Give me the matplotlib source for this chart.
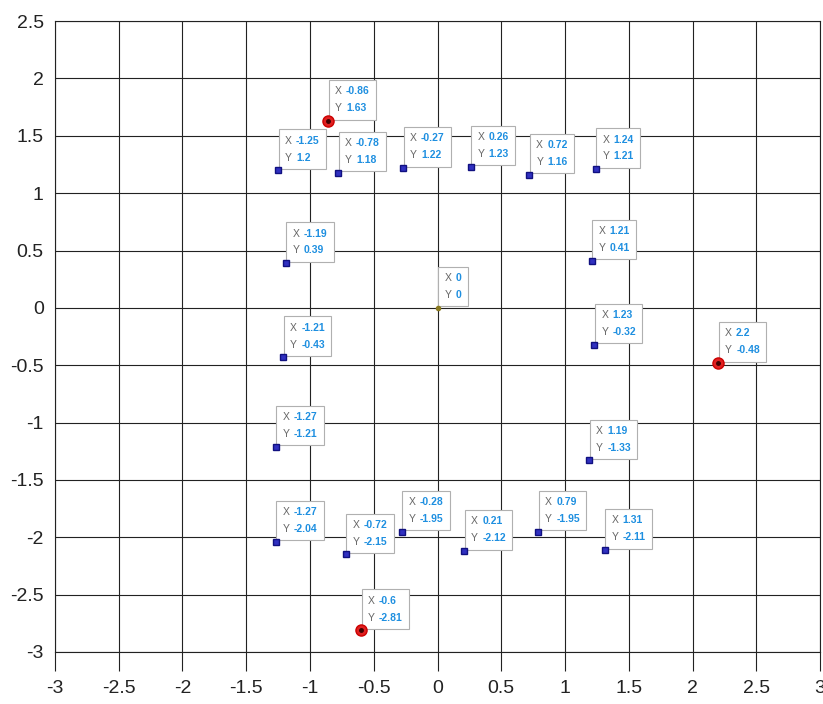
import numpy as np
import matplotlib
matplotlib.use('Agg')
import matplotlib.pyplot as plt
from matplotlib.offsetbox import TextArea, HPacker, VPacker, AnnotationBbox

plt.rcParams['font.family'] = ['Liberation Sans', 'DejaVu Sans']

# measured points (blue squares)
blue_x = [-1.25, -0.78, -0.27, 0.26, 0.72, 1.24,
          -1.19, 1.21, -1.21, 1.23, -1.27, 1.19,
          -1.27, -0.72, -0.28, 0.21, 0.79, 1.31]
blue_y = [1.2, 1.18, 1.22, 1.23, 1.16, 1.21,
          0.39, 0.41, -0.43, -0.32, -1.21, -1.33,
          -2.04, -2.15, -1.95, -2.12, -1.95, -2.11]

# reference points (red circles)
red_x = [-0.86, 2.2, -0.6]
red_y = [1.63, -0.48, -2.81]

# origin
orig_x = [0]
orig_y = [0]

x_ticks = np.arange(-3, 3.01, 0.5)
y_ticks = np.arange(-3, 2.51, 0.5)


def fmt(v):
    return f'{v:g}'


def data_tip(ax, x, y):
    def row(key, val):
        return HPacker(children=[
            TextArea(key, textprops=dict(color='#666666', size=7.5)),
            TextArea(val, textprops=dict(color='#1e8fe0', size=7.5, weight='bold'))],
            sep=3, pad=0, align='baseline')
    box = VPacker(children=[row('X', fmt(x)), row('Y', fmt(y))], sep=5, pad=0, align='left')
    ab = AnnotationBbox(box, (x, y), xybox=(5, 5.5), xycoords='data',
                        boxcoords='offset points', box_alignment=(0, 0),
                        pad=0.45, frameon=True,
                        bboxprops=dict(fc='white', ec='#b0b0b0', lw=0.8))
    ab.set_zorder(3)
    ax.add_artist(ab)


fig = plt.figure(figsize=(8.23, 7.04), dpi=100)
ax = fig.add_axes([0.0668, 0.0739, 0.9296, 0.8961])
ax.set_xlim(-3, 3)
ax.set_ylim(-3, 2.5)
ax.set_xticks(x_ticks)
ax.set_yticks(y_ticks)
ax.set_xticklabels([fmt(round(t, 1)) for t in x_ticks])
ax.set_yticklabels([fmt(round(t, 1)) for t in y_ticks])
ax.grid(True, color='#222222', lw=0.8)
ax.set_axisbelow(True)
ax.tick_params(axis='x', direction='out', length=14, width=0.8, color='#222222',
               labelsize=14, pad=6, labelcolor='#222222')
ax.tick_params(axis='y', length=0, labelsize=14, pad=8, labelcolor='#222222')
for s in ax.spines.values():
    s.set_color('#222222')
    s.set_linewidth(0.8)

for x, y in zip(blue_x, blue_y):
    data_tip(ax, x, y)
for x, y in zip(red_x, red_y):
    data_tip(ax, x, y)
for x, y in zip(orig_x, orig_y):
    data_tip(ax, x, y)

ax.plot(blue_x, blue_y, 's', ms=4, mfc='#3030c0', mec='#101080', mew=1, zorder=4)
ax.plot(red_x, red_y, 'o', ms=8, mfc='#e02020', mec='#cc0000', zorder=4)
ax.plot(red_x, red_y, 'o', ms=2.5, color='#400000', zorder=5)
ax.plot(orig_x, orig_y, 'o', ms=3, color='#8a7a20', zorder=4)

fig.savefig('out.png', dpi=100)
